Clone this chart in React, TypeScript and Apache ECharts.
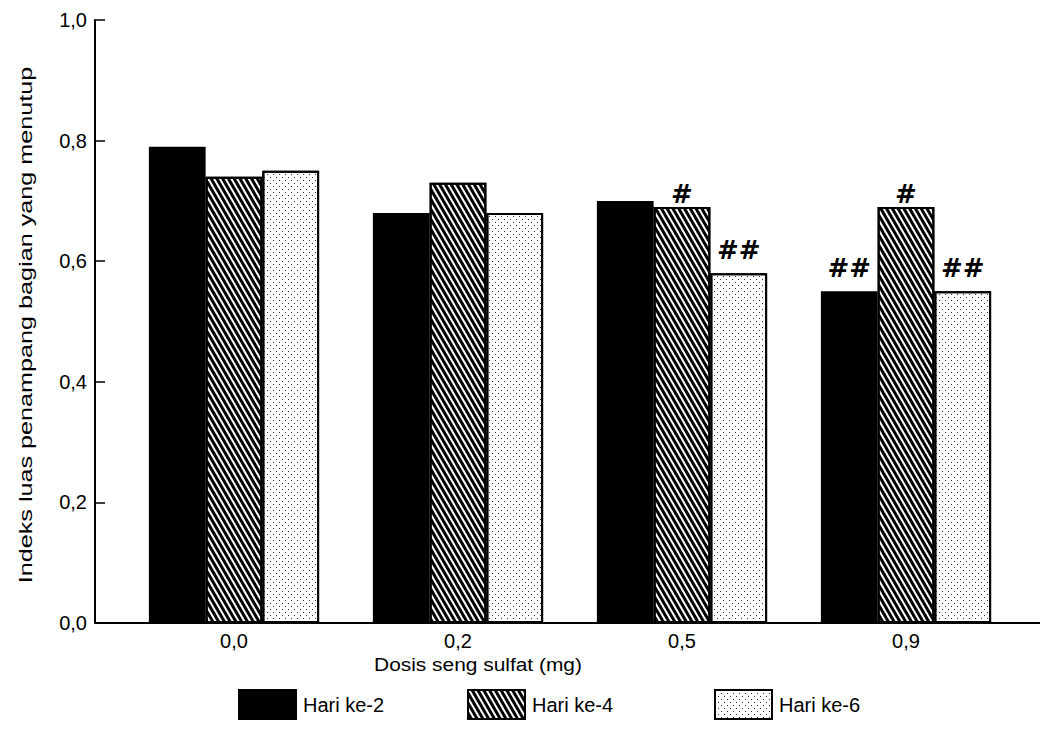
import React, { useEffect, useRef } from "react";
import * as echarts from "echarts";

const categories = ["0,0", "0,2", "0,5", "0,9"];
const seriesNames = ["Hari ke-2", "Hari ke-4", "Hari ke-6"];
const hari2 = [0.79, 0.68, 0.7, 0.55];
const hari4 = [0.74, 0.73, 0.69, 0.69];
const hari6 = [0.75, 0.68, 0.58, 0.55];
const mark2 = ["", "", "", "##"];
const mark4 = ["", "", "#", "#"];
const mark6 = ["", "", "##", "##"];
const yTicks = [0, 0.2, 0.4, 0.6, 0.8, 1.0];
const yTitle = "Indeks luas penampang bagian yang menutup";
const xTitle = "Dosis seng sulfat (mg)";

const FONT = "'Liberation Sans', Arial, sans-serif";

const hatchDecal = {
  symbol: "rect",
  symbolSize: 1,
  dashArrayX: [[1, 0]],
  dashArrayY: [3, 2],
  rotation: Math.PI / 3,
  color: "#000",
};
const dotDecal = {
  symbol: "rect",
  symbolSize: 1,
  dashArrayX: [[1, 5], [0, 3, 1, 2]],
  dashArrayY: [1, 2],
  rotation: 0,
  color: "#333",
};

export default function App() {
  const ref = useRef<HTMLDivElement>(null);
  useEffect(() => {
    const chart = echarts.init(ref.current!, null, { renderer: "svg" });
    const labelStyle = {
      show: true,
      position: "top",
      fontFamily: "'DejaVu Serif', 'Liberation Serif', serif",
      fontWeight: "bold",
      fontStyle: "italic",
      fontSize: 26,
      color: "#000",
    };
    const withMarks = (values: number[], marks: string[]) =>
      values.map((v, i) => ({
        value: v,
        label: {
          ...labelStyle,
          show: marks[i] !== "",
          formatter: marks[i],
          distance: marks[i].length > 1 ? 10 : 0,
        },
      }));
    const base = {
      type: "bar",
      barGap: "0%",
      barCategoryGap: "24%",
    };
    const legendBase = {
      bottom: 8,
      itemWidth: 57,
      itemHeight: 29,
      icon: "rect",
      itemGap: 10,
      textStyle: { fontFamily: FONT, fontSize: 20, color: "#000", padding: [6, 0, 0, 2] },
      selectedMode: false,
    };
    chart.setOption({
      animation: false,
      backgroundColor: "#fff",
      grid: { left: 122, right: 29, top: 20, bottom: 110 },
      legend: [
        { ...legendBase, left: 233, data: [seriesNames[0]] },
        { ...legendBase, left: 462, data: [seriesNames[1]] },
        { ...legendBase, left: 709, data: [seriesNames[2]] },
      ],
      xAxis: {
        type: "category",
        data: categories,
        axisLine: { show: false },
        axisTick: { show: false },
        axisLabel: { fontFamily: FONT, fontSize: 20, color: "#000", margin: 8 },
      },
      yAxis: {
        type: "value",
        min: 0,
        max: 1,
        interval: 0.2,
        offset: 27,
        axisLine: { show: true, lineStyle: { color: "#000", width: 2 } },
        axisTick: { show: true, inside: true, length: 10, lineStyle: { color: "#000", width: 1.5 } },
        splitLine: { show: false },
        axisLabel: {
          fontFamily: FONT,
          fontSize: 20,
          color: "#000",
          margin: 8,
          formatter: (v: number) => {
            const t = yTicks.find((x) => Math.abs(x - v) < 1e-9);
            return (t ?? v).toFixed(1).replace(".", ",");
          },
        },
      },
      series: [
        {
          ...base,
          name: seriesNames[0],
          data: withMarks(hari2, mark2),
          itemStyle: { color: "#000", borderColor: "#000", borderWidth: 1.5 },
        },
        {
          ...base,
          name: seriesNames[1],
          data: withMarks(hari4, mark4),
          itemStyle: { color: "#fff", borderColor: "#000", borderWidth: 2, decal: hatchDecal },
        },
        {
          ...base,
          name: seriesNames[2],
          data: withMarks(hari6, mark6),
          itemStyle: { color: "#fff", borderColor: "#000", borderWidth: 2, decal: dotDecal },
        },
      ],
      graphic: [
        {
          type: "line",
          shape: { x1: 95, y1: 623, x2: 1040, y2: 623 },
          style: { stroke: "#000", lineWidth: 2 },
        },
        {
          type: "text",
          x: 478,
          y: 664,
          scaleX: 1.1,
          style: {
            text: xTitle,
            fontFamily: FONT,
            fontSize: 19,
            fill: "#000",
            align: "center",
            verticalAlign: "middle",
          },
        },
        {
          type: "text",
          x: 26,
          y: 325,
          rotation: Math.PI / 2,
          scaleX: 1.4,
          style: {
            text: yTitle,
            fontFamily: FONT,
            fontSize: 18,
            fill: "#000",
            align: "center",
            verticalAlign: "middle",
          },
        },
      ],
    });
    return () => chart.dispose();
  }, []);
  return <div ref={ref} style={{ width: 1047, height: 733, position: "absolute", left: 0, top: 0 }} />;
}
